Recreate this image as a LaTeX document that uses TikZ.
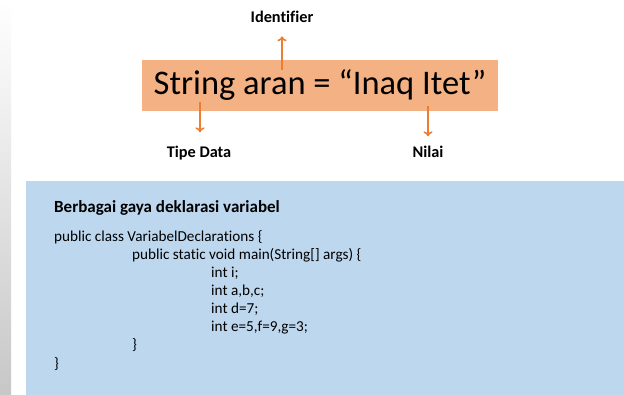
\documentclass[tikz,border=0pt]{standalone}
\usepackage{fontspec}
\setmainfont{Carlito}[Ligatures=NoCommon]
\usepackage{tikz}
\usepackage{xcolor}
\usetikzlibrary{arrows,arrows.meta}

\definecolor{oranye}{RGB}{244,177,131}
\definecolor{panah}{RGB}{237,125,49}
\definecolor{biru}{RGB}{189,215,238}

\tikzset{
  label/.style={inner sep=0pt, anchor=base, font=\fontsize{16.3}{19}\selectfont\bfseries},
  kode/.style={inner sep=0pt, anchor=base west, font=\fontsize{15.2}{18}\selectfont},
  panahku/.style={-{To[length=5pt,width=9pt]}, panah, line width=1.6pt}
}

\begin{document}
\begin{tikzpicture}[x=1pt, y=-1pt]
\useasboundingbox (0,0) rectangle (624,395);
\fill[white] (0,0) rectangle (624,395);
% pinggir kiri
\shade[top color=white, bottom color=black!22] (0,0) rectangle (11,395);
% kotak deklarasi
\node [fill=oranye, minimum width=356pt, minimum height=51pt, inner sep=0pt,
       font=\fontsize{34.5}{40}\selectfont] (decl) at (320,85.5) {String aran = “Inaq Itet”};
% label
\node [label] (ident) at (282,23) {Identifier};
\node [label] (tipe) at (199,158) {Tipe Data};
\node [label] (nilai) at (428,158) {Nilai};
% panah
\coordinate (pId) at (282,70);
\coordinate (pTipe) at (200,102);
\coordinate (pNilai) at (428,106);
\draw [panahku, shorten >=13pt] (pId) -- (ident.south);
\draw [panahku, shorten >=14pt] (pTipe) -- (tipe.north -| pTipe);
\draw [panahku, shorten >=10pt] (pNilai) -- (nilai.north -| pNilai);
% kotak biru
\fill [biru] (26,181) rectangle (624,395);
\node [kode, font=\fontsize{17}{20}\selectfont\bfseries] (judul) at (54,213) {Berbagai gaya deklarasi variabel};
\node [kode] (k1) at (54,242) {public class VariabelDeclarations \{};
\node [kode] (k2) at (132,260) {public static void main(String[] args) \{};
\node [kode] (k3) at (211,278) {int i;};
\node [kode] (k4) at (211,296) {int a,b,c;};
\node [kode] (k5) at (211,314) {int d=7;};
\node [kode] (k6) at (211,332) {int e=5,f=9,g=3;};
\node [kode] (k7) at (132,350) {\}};
\node [kode] (k8) at (54,368) {\}};
\end{tikzpicture}
\end{document}
